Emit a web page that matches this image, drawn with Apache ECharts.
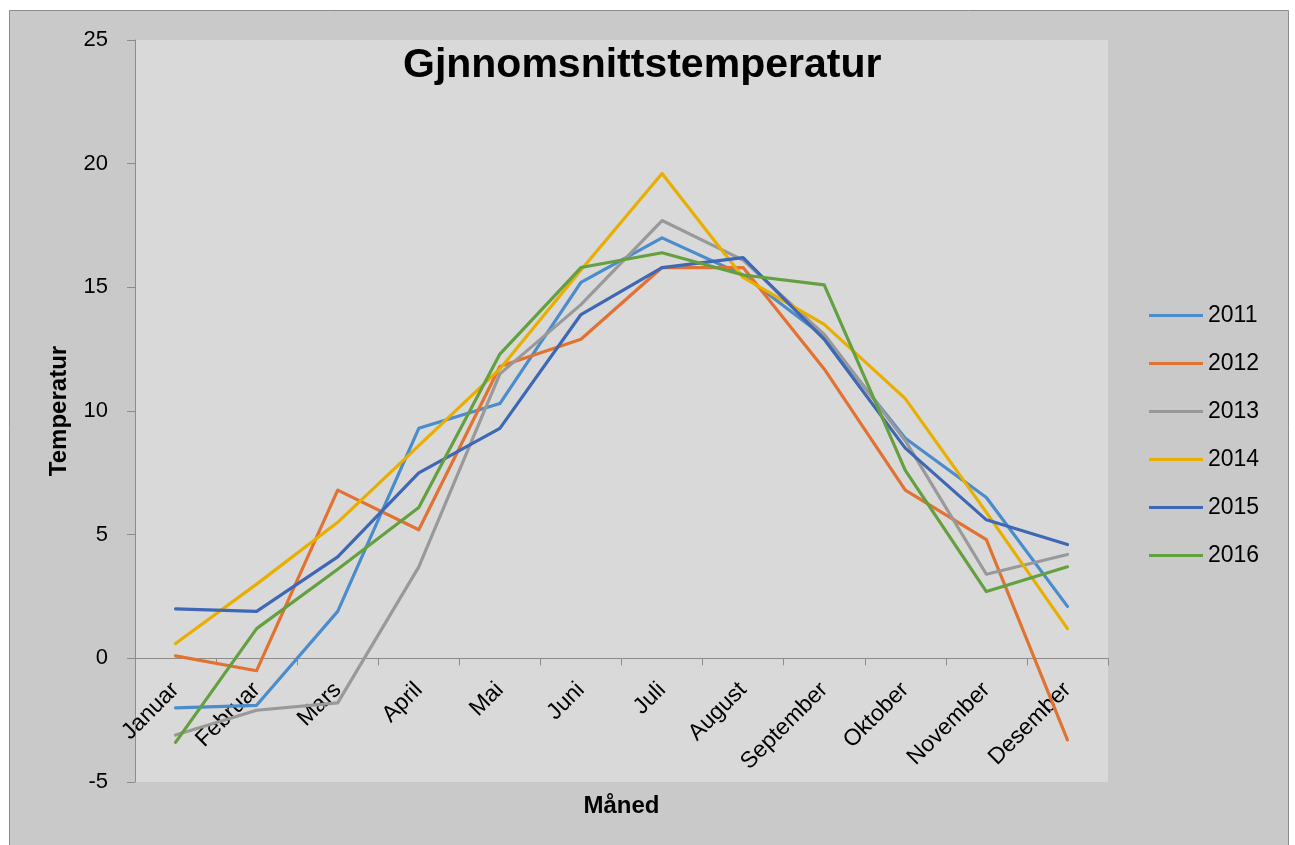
<!DOCTYPE html>
<html>
<head>
<meta charset="utf-8">
<title>Gjnnomsnittstemperatur</title>
<script src="https://cdn.jsdelivr.net/npm/echarts@6/dist/echarts.min.js"></script>
<style>
  html, body { margin: 0; padding: 0; background: #fff; }
  #main { width: 1295px; height: 845px; }
</style>
</head>
<body>
<div id="main"></div>
<script>
// måneder og temperaturer per år
var months = ['Januar', 'Februar', 'Mars', 'April', 'Mai', 'Juni', 'Juli', 'August', 'September', 'Oktober', 'November', 'Desember'];
var years = ['2011', '2012', '2013', '2014', '2015', '2016'];
var t2011 = [-2.0, -1.9, 1.9, 9.3, 10.3, 15.2, 17.0, 15.5, 13.0, 8.9, 6.5, 2.1];
var t2012 = [0.1, -0.5, 6.8, 5.2, 11.8, 12.9, 15.8, 15.8, 11.7, 6.8, 4.8, -3.3];
var t2013 = [-3.1, -2.1, -1.8, 3.7, 11.5, 14.3, 17.7, 16.1, 13.1, 8.8, 3.4, 4.2];
var t2014 = [0.6, 3.0, 5.5, 8.6, 11.7, 15.7, 19.6, 15.4, 13.5, 10.5, 5.9, 1.2];
var t2015 = [2.0, 1.9, 4.1, 7.5, 9.3, 13.9, 15.8, 16.2, 12.9, 8.5, 5.6, 4.6];
var t2016 = [-3.4, 1.2, 3.6, 6.1, 12.3, 15.8, 16.4, 15.5, 15.1, 7.6, 2.7, 3.7];
var yTicks = [-5, 0, 5, 10, 15, 20, 25];

var colors = ['#4a8ccc', '#e27231', '#999999', '#e8ae00', '#3e68b5', '#64a03f'];
var allData = [t2011, t2012, t2013, t2014, t2015, t2016];
var font = 'Liberation Sans, Arial, sans-serif';

// plot area in pixels, x-axis sits at value 0
var gridTop = 40, gridBottom = 63;
var plotH = 845 - gridTop - gridBottom;
var yMin = yTicks[0], yMax = yTicks[yTicks.length - 1];
var zeroOffset = -plotH * (0 - yMin) / (yMax - yMin);

var myChart = echarts.init(document.getElementById('main'));

var series = [];
for (var i = 0; i < years.length; i++) {
  series.push({
    name: years[i],
    type: 'line',
    data: allData[i],
    symbol: 'none',
    lineStyle: { width: 3.2, color: colors[i], cap: 'round', join: 'round' },
    itemStyle: { color: colors[i] }
  });
}

var option = {
  animation: false,
  color: colors,
  graphic: [{
    type: 'rect',
    z: -10,
    shape: { x: 9.5, y: 10.5, width: 1279, height: 850 },
    style: { fill: '#c9c9c9', stroke: '#8c8c8c', lineWidth: 1 }
  }],
  title: {
    text: 'Gjnnomsnittstemperatur',
    left: 398,
    top: 40,
    textStyle: { fontFamily: font, fontSize: 41, fontWeight: 'bold', color: '#000' }
  },
  grid: {
    left: 135, top: gridTop, right: 187, bottom: gridBottom,
    containLabel: false,
    outerBoundsMode: 'none',
    show: true, backgroundColor: '#d9d9d9', borderWidth: 0
  },
  legend: {
    orient: 'vertical',
    left: 1144,
    top: 299,
    icon: 'rect',
    itemWidth: 54,
    itemHeight: 3,
    itemGap: 25,
    data: years,
    textStyle: { fontFamily: font, fontSize: 23, color: '#000' }
  },
  xAxis: {
    type: 'category',
    data: months,
    boundaryGap: true,
    offset: zeroOffset,
    name: 'Måned',
    nameLocation: 'middle',
    nameGap: 136,
    nameTextStyle: { fontFamily: font, fontSize: 24, fontWeight: 'bold', color: '#000' },
    axisLine: { onZero: false, lineStyle: { color: '#8c8c8c', width: 1 } },
    axisTick: { show: true, length: 7, lineStyle: { color: '#8c8c8c' } },
    axisLabel: { interval: 0, rotate: 45, margin: 28, fontFamily: font, fontSize: 23, color: '#000' },
    splitLine: { show: false }
  },
  yAxis: {
    type: 'value',
    min: yMin,
    max: yMax,
    interval: 5,
    name: 'Temperatur',
    nameLocation: 'middle',
    nameGap: 64,
    nameTextStyle: { fontFamily: font, fontSize: 24, fontWeight: 'bold', color: '#000' },
    axisLine: { show: true, lineStyle: { color: '#8c8c8c', width: 1 } },
    axisTick: { show: true, length: 8, lineStyle: { color: '#8c8c8c' } },
    axisLabel: { margin: 27, fontFamily: font, fontSize: 22, color: '#000' },
    splitLine: { show: false }
  },
  series: series
};

myChart.setOption(option);
</script>
</body>
</html>
